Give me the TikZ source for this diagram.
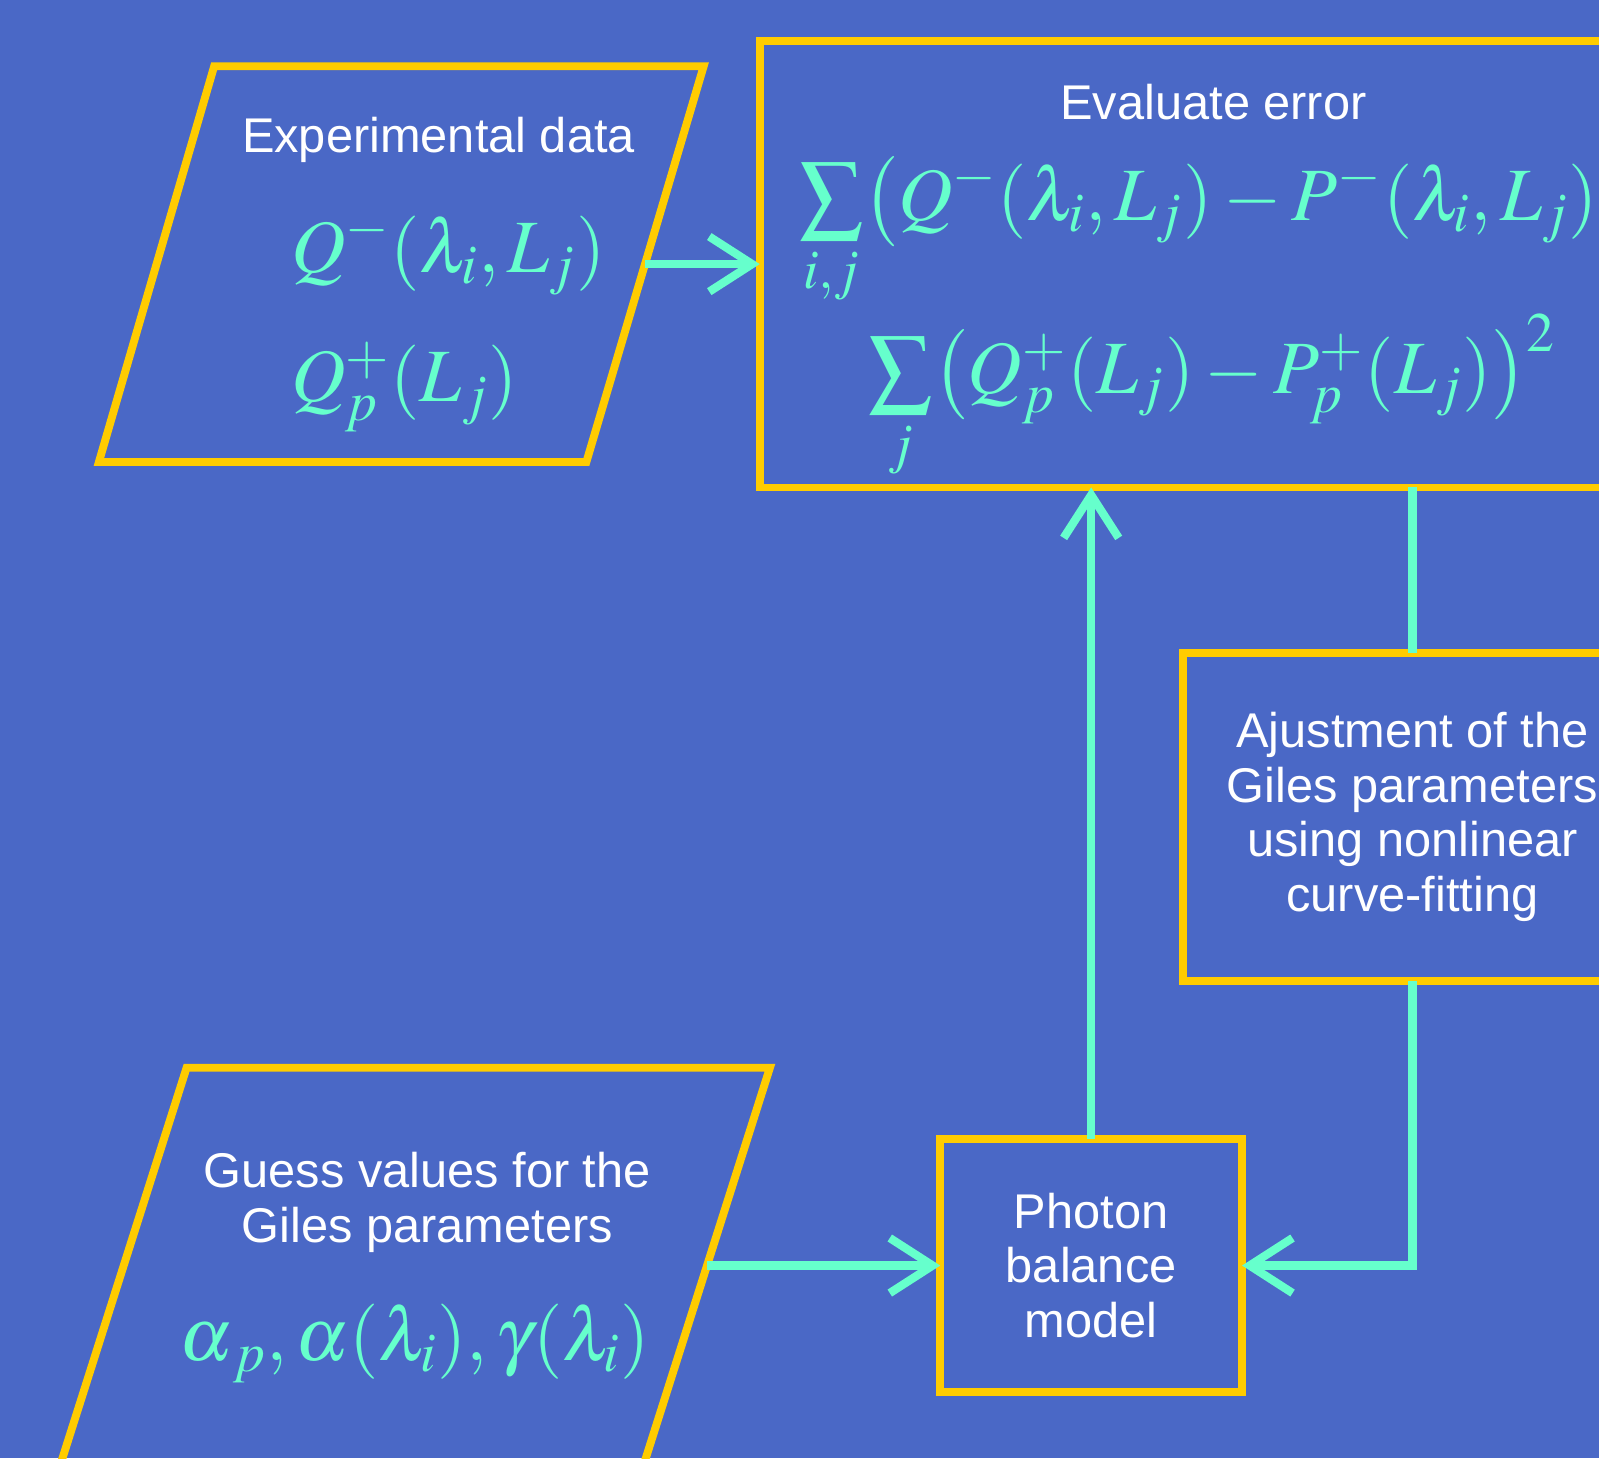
\documentclass[tikz,border=0pt]{standalone}
\usepackage{amsmath}
\usepackage{graphicx}
\usepackage{mathptmx}
\usepackage[no-math]{fontspec}
\setmainfont{Liberation Sans}
\usetikzlibrary{arrows.meta,positioning}
\definecolor{slideblue}{RGB}{74,104,198}
\definecolor{framegold}{RGB}{255,204,0}
\definecolor{flowmint}{RGB}{102,255,204}
\newcommand{\errsum}{\mathop{\vcenter{\hbox{\scalebox{1.2}{$\sum$}}}}\limits}

\begin{document}
\begin{tikzpicture}[>={Straight Barb[length=4.2mm,width=5.4mm]},line join=miter,
 frame/.style={draw=framegold,line width=2.2pt},
 stepbox/.style={frame,rectangle,inner sep=0pt,outer sep=0pt,align=center,
  text=white,font=\fontsize{13.6}{15.3}\selectfont},
 caption/.style={text=white,font=\fontsize{13.6}{15.3}\selectfont,align=center},
 formula/.style={text=flowmint,font=\fontsize{21}{25}\selectfont,inner sep=0pt},
 flow/.style={draw=flowmint,line width=2.3pt}]
\useasboundingbox (0,0) rectangle (15.68,-14.30);
\clip (0,0) rectangle (15.68,-14.30);
\fill[slideblue] (0,0) rectangle (15.68,-14.30);
% Dane wejściowe: dwa równoległoboki po lewej.
\draw[frame] (2.10,-0.65) -- (6.90,-0.65) -- (5.75,-4.53) -- (0.97,-4.53) -- cycle;
\coordinate (expt-out) at (6.325,-2.59);
\node[caption,anchor=base] (expt-title) at (4.30,-1.50) {Experimental data};
\node[formula,anchor=base west] (expt-qm) at (2.85,-2.67)
 {$Q^{-}(\lambda_{i},L_{j})$};
\node[formula,anchor=base west] (expt-qp) at (2.85,-3.94)
 {$Q_{p}^{+}(L_{j})$};
\draw[frame] (1.83,-10.47) -- (7.55,-10.47) -- (6.31,-14.37) -- (0.59,-14.37) -- cycle;
\coordinate (guess-out) at (6.93,-12.41);
\node[caption] (guess-title) at (4.19,-11.79) {Guess values for the\\Giles parameters};
\node[formula,anchor=base west] (guess-par) at (1.75,-13.34)
 {$\alpha_{\,p},\alpha(\lambda_{i}),\gamma(\lambda_{i})$};
% Prostokąty: błąd, dopasowanie, model.
\node[stepbox,minimum width=8.90cm,minimum height=4.38cm] (errbox) at (11.90,-2.59) {};
\node[caption,anchor=base] (err-title) at (11.90,-1.17) {Evaluate error};
\node[formula,anchor=base west] (err-one) at (7.83,-2.16)
 {$\errsum_{i,j}\bigl(Q^{-}(\lambda_{i},L_{j})-P^{-}(\lambda_{i},L_{j})\bigr)^{2}$};
\node[formula,anchor=base] (err-two) at (11.89,-3.86)
 {$\errsum_{j}\bigl(Q_{p}^{+}(L_{j})-P_{p}^{+}(L_{j})\bigr)^{2}$};
\node[stepbox,minimum width=4.50cm,minimum height=3.22cm] (fitbox) at (13.85,-8.01)
 {Ajustment of the\\Giles parameters\\using nonlinear\\curve-fitting};
\node[stepbox,minimum width=2.96cm,minimum height=2.48cm] (model) at (10.70,-12.41)
 {Photon\\balance\\model};
% Połączenia.
\draw[flow,->] (expt-out) -- (errbox.west);
\draw[flow,->] (guess-out) -- (model.west);
\draw[flow,->] (model.north) -- (model.north |- errbox.south);
\draw[flow] (errbox.south -| fitbox.north) -- (fitbox.north);
\draw[flow,->] (fitbox.south) |- (model.east);
\end{tikzpicture}
\end{document}
